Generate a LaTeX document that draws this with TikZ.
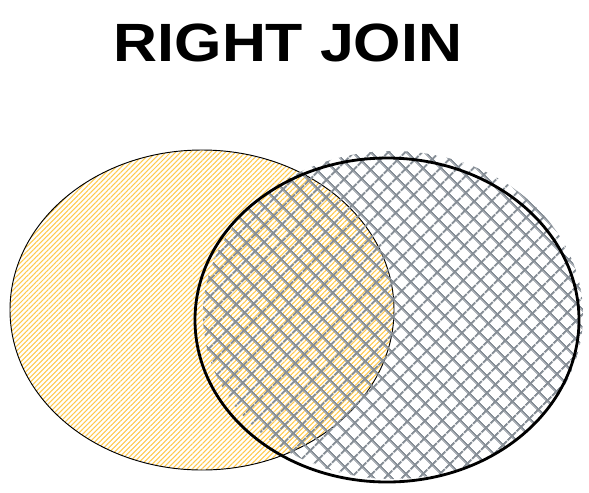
\documentclass[tikz,border=0pt]{standalone}
\usepackage{fontspec}
\newfontfamily\titlefont{Liberation Sans}[BoldFont={* Bold}]
\usetikzlibrary{patterns.meta}

\definecolor{setyellow}{HTML}{FFC94D}
\definecolor{setgrey}{HTML}{868E96}

\tikzset{
  title/.style={font=\titlefont\bfseries\fontsize{46}{50}\selectfont, inner sep=0pt},
  leftset/.style={pattern={Lines[angle=45, distance=3pt, line width=0.9pt]}, pattern color=setyellow},
  rightset/.style={pattern={Hatch[angle=45, distance=10.5pt, line width=1.8pt]}, pattern color=setgrey},
}

\begin{document}
\begin{tikzpicture}[x=0.03cm, y=-0.03cm]
    \useasboundingbox (0,0) rectangle (589,492);

    % Title
    \node[title] (heading) at (288,43) {\scalebox{1.13}[1]{RIGHT JOIN}};

    % Left set (table A)
    \fill[leftset] (202,310) ellipse [x radius=192, y radius=160];
    \draw[line width=0.8pt] (202,310) ellipse [x radius=192, y radius=160];

    % Right set (table B), hatching a bit off the outline
    \fill[rightset] (393,315) ellipse [x radius=190, y radius=164];
    \draw[line width=2.4pt] (387,320) ellipse [x radius=192, y radius=162];

\end{tikzpicture}
\end{document}
